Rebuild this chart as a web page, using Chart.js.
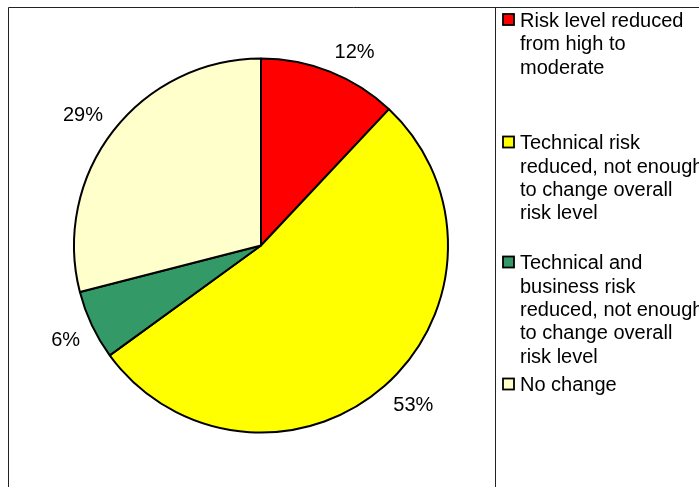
<!DOCTYPE html>
<html>
<head>
<meta charset="utf-8">
<script src="https://cdn.jsdelivr.net/npm/chart.js@4/dist/chart.umd.min.js"></script>
<style>
  html, body { margin: 0; padding: 0; background: #ffffff; }
  #wrap { width: 699px; height: 487px; }
</style>
</head>
<body>
<div id="wrap"><canvas id="c" width="699" height="487"></canvas></div>
<script>
// ---- data ----
const categories = [
  ["Risk level reduced", "from high to", "moderate"],
  ["Technical risk", "reduced, not enough", "to change overall", "risk level"],
  ["Technical and", "business risk", "reduced, not enough", "to change overall", "risk level"],
  ["No change"]
];
const values = [12, 53, 6, 29];
const sliceColors = ["#FF0000", "#FFFF00", "#339966", "#FFFFCC"];

// ---- layout/style constants ----
const FONT = '20px "Liberation Sans", Arial, sans-serif';
const legendTops = [12.5, 135, 255, 377];
const legendLineHeight = 23.3;

const decorPlugin = {
  id: 'decor',
  afterDraw(chart) {
    const ctx = chart.ctx;
    ctx.save();
    // frame lines
    ctx.strokeStyle = '#222222';
    ctx.lineWidth = 1;
    ctx.beginPath();
    ctx.moveTo(8.5, 487); ctx.lineTo(8.5, 7.5); ctx.lineTo(699, 7.5);
    ctx.moveTo(495.5, 7.5); ctx.lineTo(495.5, 487);
    ctx.stroke();

    // percentage labels outside the slices (outside-end placement)
    const meta = chart.getDatasetMeta(0);
    ctx.font = FONT;
    ctx.fillStyle = '#000000';
    ctx.textAlign = 'center';
    ctx.textBaseline = 'middle';
    meta.data.forEach((arc, i) => {
      const p = arc.getProps(['x', 'y', 'startAngle', 'endAngle', 'outerRadius'], true);
      const mid = (p.startAngle + p.endAngle) / 2;
      const c = Math.cos(mid), s = Math.sin(mid);
      const txt = values[i] + '%';
      const halfW = ctx.measureText(txt).width / 2;
      const halfH = 8.5;
      const d = p.outerRadius + 13;
      const x = p.x + c * d + Math.sign(c) * halfW;
      const y = p.y + s * d + Math.sign(s) * halfH;
      ctx.fillText(txt, x, y + 1);
    });

    // legend
    ctx.textAlign = 'left';
    ctx.textBaseline = 'alphabetic';
    categories.forEach((lines, i) => {
      const top = legendTops[i];
      ctx.fillStyle = sliceColors[i];
      ctx.fillRect(503, top + 1.5, 11, 11);
      ctx.strokeStyle = '#000000';
      ctx.lineWidth = 1.8;
      ctx.strokeRect(503, top + 1.5, 11, 11);
      ctx.fillStyle = '#000000';
      lines.forEach((ln, j) => {
        ctx.fillText(ln, 520, top + 14.4 + j * legendLineHeight);
      });
    });
    ctx.restore();
  }
};

new Chart(document.getElementById('c'), {
  type: 'pie',
  data: {
    labels: categories,
    datasets: [{
      data: values,
      backgroundColor: sliceColors,
      borderColor: '#000000',
      borderWidth: 2
    }]
  },
  options: {
    responsive: false,
    animation: false,
    layout: { padding: { left: 73, right: 250, top: 57, bottom: 53 } },
    plugins: {
      legend: { display: false },
      tooltip: { enabled: false }
    }
  },
  plugins: [decorPlugin]
});
</script>
</body>
</html>
